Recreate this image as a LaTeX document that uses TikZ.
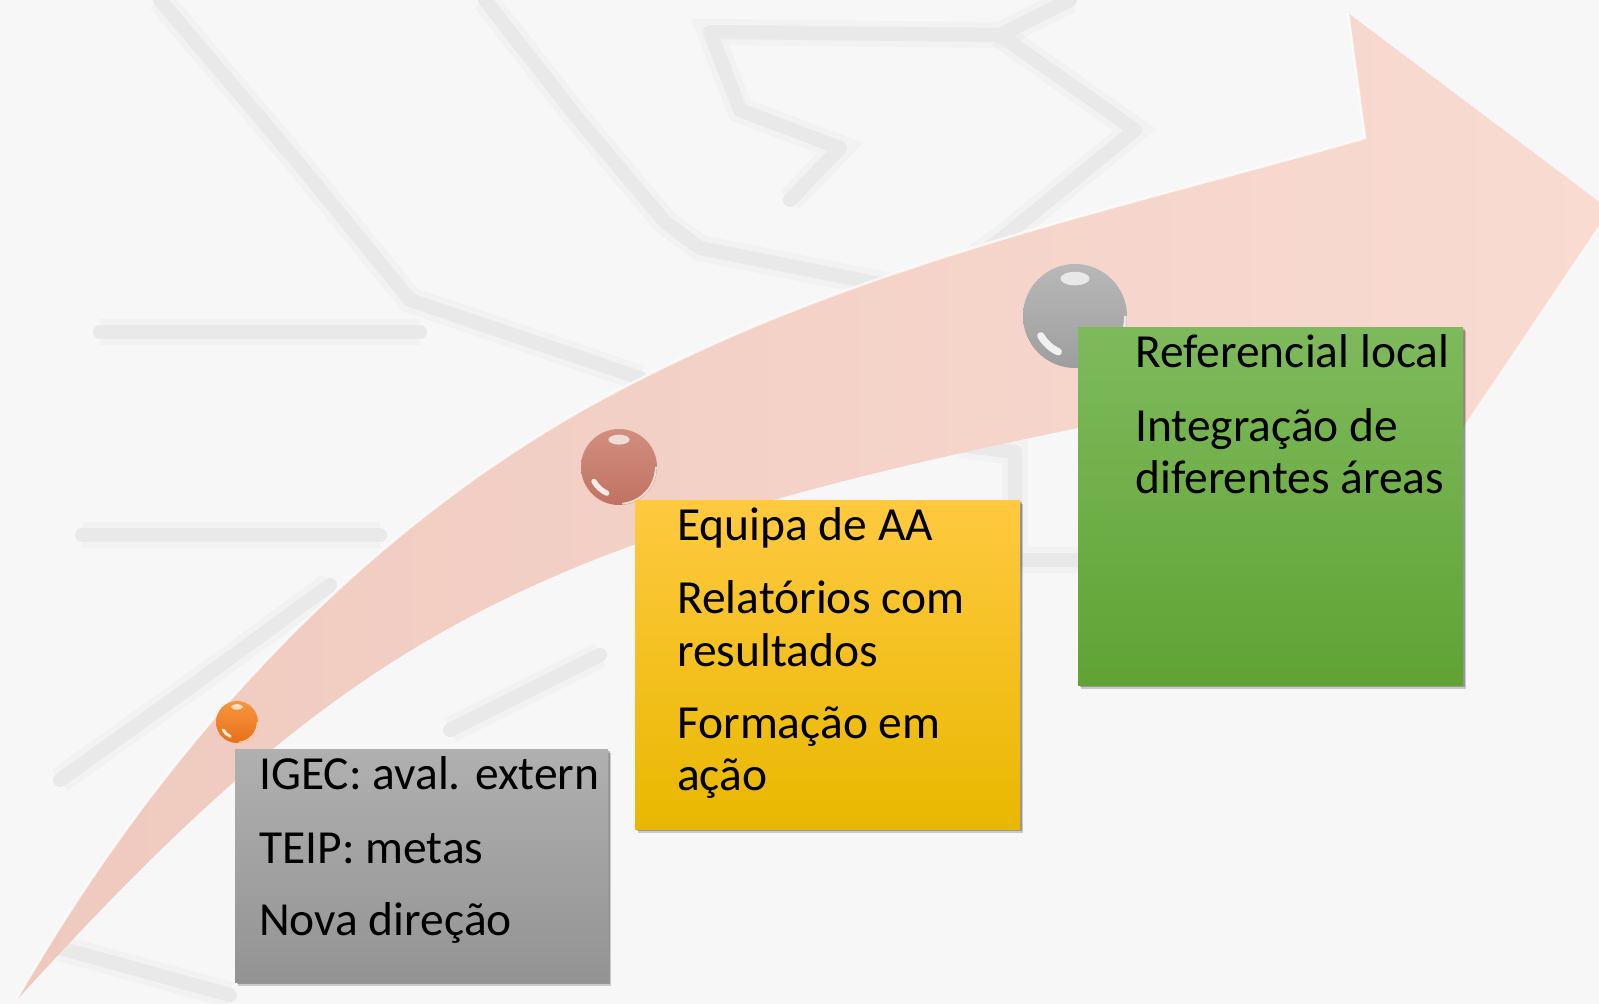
\documentclass[tikz,border=0pt]{standalone}
\usepackage{fontspec}
\setmainfont{Carlito}
\usetikzlibrary{calc,shadows}
\definecolor{bg}{HTML}{F7F7F7}
\definecolor{wmc}{HTML}{E9E9E9}
\definecolor{pinkA}{HTML}{EFC9BE}
\definecolor{pinkB}{HTML}{F9DBD2}
\definecolor{grayT}{HTML}{B0B0B0}
\definecolor{grayB}{HTML}{939393}
\definecolor{yelT}{HTML}{FFC940}
\definecolor{yelM}{HTML}{FFC800}
\definecolor{yelB}{HTML}{E8B800}
\definecolor{grnT}{HTML}{7EBA5C}
\definecolor{grnM}{HTML}{6CB040}
\definecolor{grnB}{HTML}{60A334}
\definecolor{orgL}{HTML}{F7963E}
\definecolor{orgD}{HTML}{E8701A}
\definecolor{copL}{HTML}{D28E7E}
\definecolor{copD}{HTML}{C07262}
\definecolor{silL}{HTML}{B8B8B8}
\definecolor{silD}{HTML}{9E9E9E}
\newcommand\sphfx[2]{%
  \fill[white,opacity=.7] ($(#1.center)+(0,{-0.72*#2})$) ellipse ({0.28*#2} and {0.13*#2});
  \draw[white,opacity=.85,line width={0.14*#2},line cap=round]
    ($(#1.center)+(115:{0.76*#2})$) arc[start angle=115,end angle=150,radius={0.76*#2}];
  \draw[white,opacity=.75,line width={0.05*#2}]
    ($(#1.center)+(0:{0.97*#2})$) arc[start angle=0,end angle=85,radius={0.97*#2}];
}
\begin{document}
\begin{tikzpicture}[x=1pt,y=-1pt,
  wm/.style={draw=wmc,line width=14pt,line cap=round,line join=round,
    preaction={draw=wmc,line width=26pt,opacity=.35}},
  boxnode/.style={rectangle,anchor=north west,inner sep=0pt,
    drop shadow={shadow xshift=3pt,shadow yshift=-4pt,opacity=.18,fill=black},
    drop shadow={shadow xshift=1.5pt,shadow yshift=-2pt,opacity=.25,fill=black}},
  sph/.style={circle,inner sep=0pt,minimum size=#1},
  txt/.style={anchor=base west,inner sep=0pt,font=\fontsize{47.5}{53}\selectfont}]
\useasboundingbox (0,0) rectangle (1599,1004);
\clip (0,0) rectangle (1599,1004);
\fill[bg] (0,0) rectangle (1599,1004);
% watermark
\draw[wm] (160,0) -- (300,165) -- (410,300) -- (640,378);
\draw[wm] (100,332) -- (420,332);
\draw[wm] (485,0) -- (575,115) -- (665,222) -- (700,248) -- (850,278) -- (960,300);
\draw[wm] (1070,0) -- (1000,35) -- (710,32) -- (740,110) -- (840,148) -- (790,200);
\draw[wm] (1000,35) -- (1135,130) -- (1000,240) -- (930,290);
\draw[wm] (82,535) -- (380,535);
\draw[wm] (60,780) -- (200,680) -- (330,585);
\draw[wm] (450,730) -- (600,655);
\draw[wm] (60,948) -- (230,995);
\draw[wm] (960,445) -- (1015,452) -- (1015,560) -- (1080,560);
% arrow
\coordinate (tail) at (15,1002);
\coordinate (u1) at (600,400);
\coordinate (notchA) at (1365,138);
\coordinate (barbA) at (1348,13);
\coordinate (tip) at (1610,210);
\coordinate (barbB) at (1435,470);
\coordinate (notchB) at (1395,385);
\coordinate (l2) at (1078,428);
\shade[left color=pinkA,right color=pinkB]
  (tail) .. controls (175,722) and (380,520) .. (u1)
  .. controls (850,264) and (1115,210) .. (notchA)
  -- (barbA) -- (tip) -- (barbB) -- (notchB)
  .. controls (1300,395) and (1180,410) .. (l2)
  .. controls (518,543) and (345,639) .. (tail) -- cycle;
\draw[white,opacity=.75,line width=2.5pt,line join=round]
  (tail) .. controls (175,722) and (380,520) .. (u1)
  .. controls (850,264) and (1115,210) .. (notchA) -- (barbA);
\draw[white,opacity=.5,line width=1.5pt] (tip) -- (barbB);
% spheres
\node[sph=42pt,top color=orgL,bottom color=orgD] (s1) at (237,722) {};
\sphfx{s1}{21}
\node[sph=76pt,top color=copL,bottom color=copD] (s2) at (619,467) {};
\sphfx{s2}{38}
\node[sph=104pt,top color=silL,bottom color=silD] (s3) at (1075,316) {};
\sphfx{s3}{52}
% boxes
\node[boxnode,minimum width=373pt,minimum height=233pt,top color=grayT,bottom color=grayB] (b1) at (235,749) {};
\node[boxnode,minimum width=385pt,minimum height=329pt,top color=yelT,middle color=yelM,bottom color=yelB] (b2) at (635,500) {};
\node[boxnode,minimum width=385pt,minimum height=358pt,top color=grnT,middle color=grnM,bottom color=grnB] (b3) at (1078,327) {};
% texts
\node[txt] (t11) at (259,789) {IGEC: aval. extern};
\node[txt] (t12) at (259,863) {TEIP: metas};
\node[txt] (t13) at (259,935) {Nova direção};
\node[txt] (t21) at (677,540) {Equipa de AA};
\node[txt] (t22) at (677,613) {Relatórios com};
\node[txt] (t23) at (677,666) {resultados};
\node[txt] (t24) at (677,738) {Formação em};
\node[txt] (t25) at (677,790) {ação};
\node[txt] (t31) at (1135,367) {Referencial local};
\node[txt] (t32) at (1135,441) {Integração de};
\node[txt] (t33) at (1135,493) {diferentes áreas};
\end{tikzpicture}
\end{document}
